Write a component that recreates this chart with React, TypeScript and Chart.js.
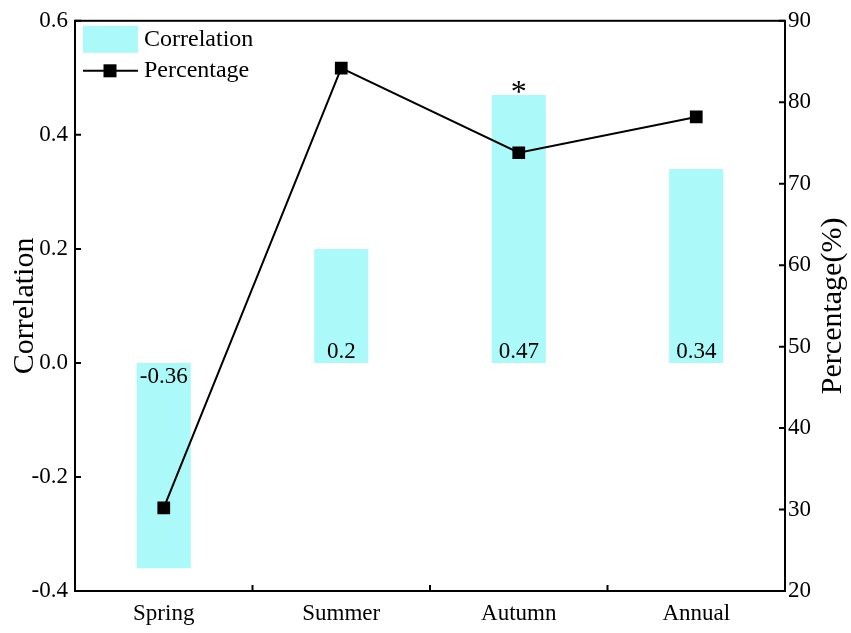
import { useEffect, useRef } from "react"
import { Chart, registerables } from "chart.js"

Chart.register(...registerables)

const seasons = ["Spring", "Summer", "Autumn", "Annual"]
const correlation = [-0.36, 0.2, 0.47, 0.34]
const percentage = [30.2, 84.2, 73.8, 78.2]
const significance = ["", "", "*", ""]

const FONT = "'Liberation Serif', 'Times New Roman', serif"
const BAR_COLOR = "#abf9f9"

const decorPlugin = {
  id: "decor",
  afterDatasetsDraw(chart: any) {
    const { ctx, chartArea, scales } = chart
    const { left, right, top, bottom } = chartArea
    const yS = scales.y
    const y1S = scales.y1
    const xS = scales.x
    ctx.save()

    // frame
    ctx.strokeStyle = "#000"
    ctx.lineWidth = 2
    ctx.strokeRect(left, top, right - left, bottom - top)

    // inward ticks
    ctx.beginPath()
    yS.ticks.forEach((t: any) => {
      const p = yS.getPixelForValue(t.value)
      ctx.moveTo(left, p)
      ctx.lineTo(left + 6, p)
    })
    y1S.ticks.forEach((t: any) => {
      const p = y1S.getPixelForValue(t.value)
      ctx.moveTo(right, p)
      ctx.lineTo(right - 6, p)
    })
    for (let i = 0; i < seasons.length - 1; i++) {
      const p = (xS.getPixelForTick(i) + xS.getPixelForTick(i + 1)) / 2
      ctx.moveTo(p, bottom)
      ctx.lineTo(p, bottom - 6)
    }
    ctx.stroke()

    // bar value labels
    const zero = yS.getPixelForValue(0)
    ctx.fillStyle = "#000"
    ctx.font = `23px ${FONT}`
    ctx.textAlign = "center"
    ctx.textBaseline = "alphabetic"
    correlation.forEach((v, i) => {
      const x = xS.getPixelForTick(i)
      const y = v >= 0 ? zero - 5 : zero + 20
      ctx.fillText(String(v), x, y)
    })

    // significance marks
    ctx.font = `32px ${FONT}`
    significance.forEach((s, i) => {
      if (!s) return
      const x = xS.getPixelForTick(i)
      ctx.fillText(s, x, yS.getPixelForValue(correlation[i]) + 7)
    })

    // legend
    ctx.fillStyle = BAR_COLOR
    ctx.fillRect(left + 8, top + 5, 55, 27)
    ctx.fillStyle = "#000"
    ctx.font = `24px ${FONT}`
    ctx.textAlign = "left"
    ctx.textBaseline = "middle"
    ctx.fillText("Correlation", left + 69, top + 19)
    ctx.beginPath()
    ctx.moveTo(left + 8, top + 50)
    ctx.lineTo(left + 63, top + 50)
    ctx.stroke()
    ctx.fillRect(left + 35 - 6.5, top + 50 - 6.5, 13, 13)
    ctx.fillText("Percentage", left + 69, top + 50)

    // axis titles
    const midY = (top + bottom) / 2
    ctx.font = `30px ${FONT}`
    ctx.textAlign = "center"
    ctx.textBaseline = "alphabetic"
    ctx.save()
    ctx.translate(33, midY)
    ctx.rotate(-Math.PI / 2)
    ctx.fillText("Correlation", 0, 0)
    ctx.restore()
    ctx.save()
    ctx.translate(841, midY)
    ctx.rotate(-Math.PI / 2)
    ctx.fillText("Percentage(%)", 0, 0)
    ctx.restore()

    ctx.restore()
  },
}

export default function App() {
  const chartRef = useRef<HTMLCanvasElement>(null)
  const chartInstance = useRef<Chart | null>(null)

  useEffect(() => {
    document.body.style.margin = "0"
    if (!chartRef.current) return
    const ctx = chartRef.current.getContext("2d")
    if (!ctx) return

    const tickFont = { family: FONT, size: 23 }

    chartInstance.current = new Chart(ctx, {
      type: "bar",
      data: {
        labels: seasons,
        datasets: [
          {
            type: "line",
            label: "Percentage",
            data: percentage,
            yAxisID: "y1",
            borderColor: "#000",
            borderWidth: 2,
            pointStyle: "rect",
            pointRadius: 9,
            pointBackgroundColor: "#000",
            pointBorderColor: "#000",
            pointBorderWidth: 0,
            order: 0,
          },
          {
            type: "bar",
            label: "Correlation",
            data: correlation,
            yAxisID: "y",
            backgroundColor: BAR_COLOR,
            barPercentage: 0.305,
            categoryPercentage: 1,
            order: 1,
          },
        ],
      } as any,
      options: {
        animation: false,
        responsive: true,
        maintainAspectRatio: false,
        layout: { padding: { top: 20, left: 0, right: 0, bottom: 0 } },
        plugins: {
          legend: { display: false },
          tooltip: { enabled: false },
        },
        scales: {
          x: {
            grid: { display: false, drawTicks: false },
            border: { display: false },
            ticks: { font: tickFont, color: "#000", padding: 9 },
            afterFit: (scale: any) => {
              scale.height = 42
            },
          },
          y: {
            position: "left",
            min: -0.4,
            max: 0.6,
            grid: { display: false, drawTicks: false },
            border: { display: false },
            ticks: {
              stepSize: 0.2,
              font: tickFont,
              color: "#000",
              padding: 7,
              callback: (v: any) => (Math.abs(Number(v)) < 1e-9 ? "0.0" : Number(v).toFixed(1)),
            },
            afterFit: (scale: any) => {
              scale.width = 75
            },
          },
          y1: {
            position: "right",
            min: 20,
            max: 90,
            grid: { display: false, drawTicks: false },
            border: { display: false },
            ticks: { stepSize: 10, font: tickFont, color: "#000", padding: 3 },
            afterFit: (scale: any) => {
              scale.width = 66
            },
          },
        },
      },
      plugins: [decorPlugin],
    })

    return () => {
      if (chartInstance.current) {
        chartInstance.current.destroy()
        chartInstance.current = null
      }
    }
  }, [])

  return (
    <div style={{ width: 851, height: 633, position: "relative", background: "#fff" }}>
      <canvas ref={chartRef} />
    </div>
  )
}
